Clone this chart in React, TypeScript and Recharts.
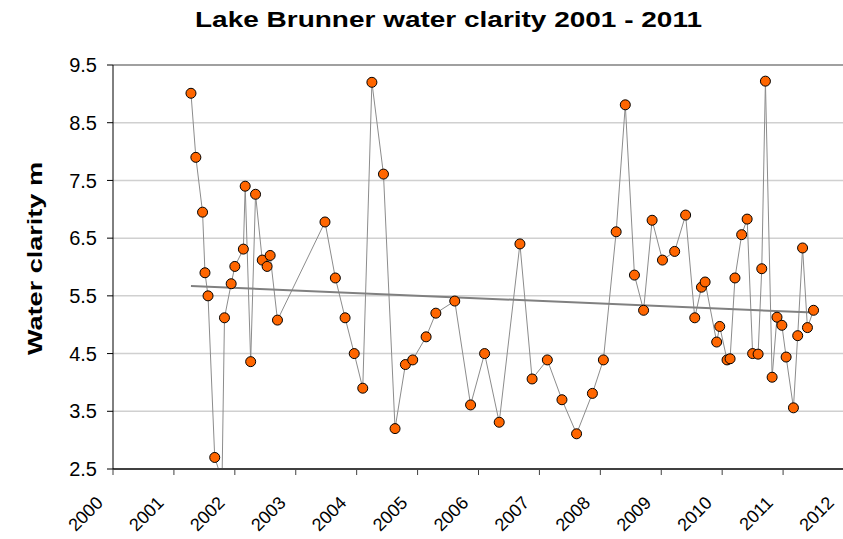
import { LineChart, Line, XAxis, YAxis, CartesianGrid, ReferenceLine } from 'recharts';

// sample dates as decimal years, and secchi depth (m)
const sampleYears = [
  2001.28, 2001.36, 2001.47, 2001.51, 2001.56, 2001.67, 2001.79, 2001.83, 2001.94, 2002.0,
  2002.14, 2002.17, 2002.26, 2002.34, 2002.45, 2002.53, 2002.58, 2002.7, 2003.48, 2003.65,
  2003.81, 2003.96, 2004.1, 2004.25, 2004.44, 2004.63, 2004.8, 2004.92, 2005.14, 2005.3,
  2005.61, 2005.87, 2006.1, 2006.34, 2006.68, 2006.88, 2007.13, 2007.37, 2007.61, 2007.87,
  2008.05, 2008.26, 2008.41, 2008.56, 2008.71, 2008.85, 2009.02, 2009.22, 2009.4, 2009.55,
  2009.66, 2009.72, 2009.91, 2009.96, 2010.08, 2010.13, 2010.21, 2010.32, 2010.41, 2010.5,
  2010.59, 2010.65, 2010.71, 2010.82, 2010.9, 2010.98, 2011.05, 2011.17, 2011.24, 2011.32,
  2011.4, 2011.5,
];
const clarity = [
  9.01, 7.9, 6.95, 5.9, 5.5, 2.7, 2.31, 5.12, 5.71, 6.01,
  6.31, 7.4, 4.36, 7.26, 6.12, 6.01, 6.2, 5.08, 6.78, 5.81,
  5.12, 4.5, 3.9, 9.2, 7.61, 3.2, 4.31, 4.39, 4.79, 5.2,
  5.41, 3.61, 4.5, 3.31, 6.4, 4.06, 4.39, 3.7, 3.11, 3.81,
  4.39, 6.61, 8.81, 5.86, 5.25, 6.81, 6.12, 6.27, 6.9, 5.12,
  5.65, 5.74, 4.7, 4.97, 4.39, 4.41, 5.81, 6.56, 6.83, 4.5,
  4.49, 5.97, 9.22, 4.09, 5.13, 4.99, 4.44, 3.56, 4.81, 6.33,
  4.95, 5.25,
];

// linear trend end points
const trendYears = [2001.28, 2011.5];
const trendValues = [5.67, 5.21];

const xTicks = [2000, 2001, 2002, 2003, 2004, 2005, 2006, 2007, 2008, 2009, 2010, 2011, 2012];
const yTicks = [2.5, 3.5, 4.5, 5.5, 6.5, 7.5, 8.5, 9.5];

const FONT = '"Liberation Sans", Arial, sans-serif';

const points = sampleYears.map((year, i) => ({ year, clarity: clarity[i] }));
const trend = trendYears.map((year, i) => ({ year, trend: trendValues[i] }));

// rotated year labels
function YearTick({ x, y, payload }: any) {
  const tx = x - 9;
  const ty = y + 27;
  return (
    <text
      x={tx}
      y={ty}
      transform={`rotate(-45, ${tx}, ${ty})`}
      textAnchor="end"
      fontSize={18}
      fontFamily={FONT}
      fill="#000"
    >
      {payload.value}
    </text>
  );
}

export default function App() {
  return (
    <div
      style={{
        position: 'absolute',
        left: 0,
        top: 0,
        width: 843,
        height: 539,
        overflow: 'hidden',
        background: '#fff',
      }}
    >
      <LineChart
        width={850}
        height={539}
        margin={{ top: 65, right: 6, bottom: 0, left: 13 }}
      >
        <CartesianGrid vertical={false} stroke="#D0D0D0" strokeWidth={1.5} />
        <ReferenceLine y={9.5} stroke="#A0A0A0" strokeWidth={2} />
        <XAxis
          type="number"
          dataKey="year"
          domain={[2000, 2012]}
          ticks={xTicks}
          interval={0}
          height={70}
          tick={<YearTick />}
          tickSize={6}
          axisLine={{ stroke: '#404040', strokeWidth: 2 }}
          tickLine={{ stroke: '#404040' }}
        />
        <YAxis
          type="number"
          domain={[2.5, 9.5]}
          ticks={yTicks}
          interval={0}
          allowDataOverflow
          width={100}
          tickSize={6}
          tickMargin={10}
          tickFormatter={(v: number) => v.toFixed(1)}
          tick={{ fontSize: 20, fontFamily: FONT, fill: '#000' }}
          axisLine={{ stroke: '#000' }}
          tickLine={{ stroke: '#000' }}
        />
        <Line
          data={points}
          dataKey="clarity"
          stroke="#8C8C8C"
          strokeWidth={1}
          dot={{ r: 5, fill: '#FF6600', stroke: '#000', strokeWidth: 1 }}
          isAnimationActive={false}
        />
        <Line
          data={trend}
          dataKey="trend"
          stroke="#808080"
          strokeWidth={2}
          dot={false}
          isAnimationActive={false}
        />
      </LineChart>

      <svg
        width={843}
        height={539}
        style={{ position: 'absolute', left: 0, top: 0, pointerEvents: 'none' }}
      >
        <text
          x={195}
          y={27}
          fontSize={22}
          fontWeight="bold"
          fontFamily={FONT}
          textLength={507}
          lengthAdjust="spacingAndGlyphs"
          fill="#000"
        >
          Lake Brunner water clarity 2001 - 2011
        </text>
        <text
          x={42}
          y={355}
          transform="rotate(-90, 42, 355)"
          fontSize={21}
          fontWeight="bold"
          fontFamily={FONT}
          textLength={193}
          lengthAdjust="spacingAndGlyphs"
          fill="#000"
        >
          Water clarity m
        </text>
      </svg>
    </div>
  );
}
